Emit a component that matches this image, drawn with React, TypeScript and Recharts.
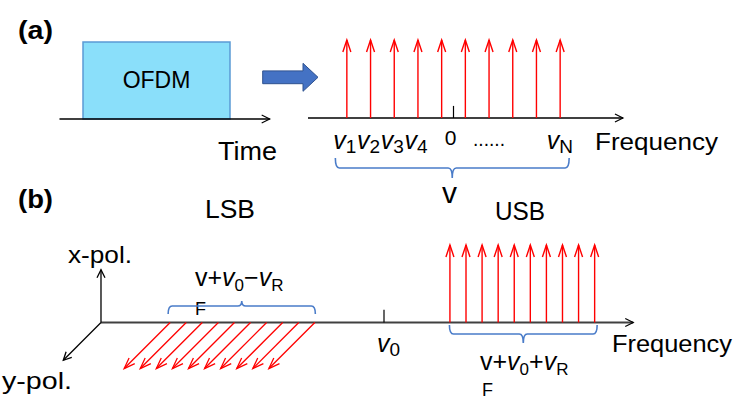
import React from 'react';
import { ComposedChart, XAxis, YAxis, ReferenceLine, ReferenceArea, ReferenceDot } from 'recharts';

const W = 737;
const H = 399;
const FONT = "'Liberation Sans', Arial, sans-serif";

// (a) OFDM baseband subcarriers v1 … vN, in subcarrier spacings about 0
const basebandFreq = [-4.5, -3.5, -2.5, -1.5, -0.5, 0.5, 1.5, 2.5, 3.5, 4.5];
const basebandAmp = [1, 1, 1, 1, 1, 1, 1, 1, 1, 1];
const basebandSub = ['1', '2', '3', '4', '', '', '', '', '', 'N'];

// (b) sidebands about the optical carrier v0, same spacing units
const lsbFreq = [-13.3, -12.3, -11.3, -10.3, -9.3, -8.3, -7.3, -6.3, -5.3, -4.3]; // y-pol.
const lsbAmp = [1, 1, 1, 1, 1, 1, 1, 1, 1, 1];
const usbFreq = [4.1, 5.1, 6.1, 7.1, 8.1, 9.1, 10.1, 11.1, 12.1, 13.1]; // x-pol.
const usbAmp = [1, 1, 1, 1, 1, 1, 1, 1, 1, 1];

// one OFDM symbol in the time domain
const symbolStart = 0;
const symbolEnd = 1;
const symbolLevel = 1;

// axis extents (in each panel's own units)
const timeAxis = [-0.16, 1.27];
const freqAxisA = [-6.14, 7.15];
const freqAxisB = [-17.6, 15.5];
const yPolDir = { df: -2.86, da: -0.594 }; // oblique y-pol. direction in (b)
const xPolLen = 0.68;
const yPolLen = 0.82;

// domain that puts value v0 at pixel p0 and v1 at pixel p1
function fit(v0: number, p0: number, v1: number, p1: number, size: number): [number, number] {
  const k = (p1 - p0) / (v1 - v0);
  const lo = v0 - p0 / k;
  return [lo, lo + size / k];
}
const fitY = (v0: number, p0: number, v1: number, p1: number) => fit(v0, H - p0, v1, H - p1, H);

const timeX = fit(0, 83, 1, 230, W);
const timeY = fitY(0, 119, 1, 42);
const freqAX = fit(0, 453.5, 1, 477.2, W);
const ampAY = fitY(0, 118, 1, 40);
const freqBX = fit(0, 384, 1, 400.08, W);
const ampBY = fitY(0, 322.5, 1, 245);

const RED = '#ff0000';
const BRACE = '#4a7cc9';

const rows = basebandFreq.map((f, i) => ({ f, a: basebandAmp[i] }));

const arrow = (color: string, width: number, len: number, half: number) => (p: any) => {
  const { x1, y1, x2, y2 } = p;
  const ang = Math.atan2(y2 - y1, x2 - x1);
  const c = Math.cos(ang);
  const s = Math.sin(ang);
  const bx = x2 - len * c;
  const by = y2 - len * s;
  return (
    <g>
      <line x1={x1} y1={y1} x2={x2} y2={y2} stroke={color} strokeWidth={width} />
      <path
        d={`M${bx - half * s},${by + half * c}L${x2},${y2}L${bx + half * s},${by - half * c}`}
        fill="none"
        stroke={color}
        strokeWidth={width}
      />
    </g>
  );
};

const axisLine = (color: string, width: number, headColor: string) => (p: any) => {
  const { x1, y1, x2, y2 } = p;
  return (
    <g>
      <line x1={x1} y1={y1} x2={x2} y2={y2} stroke={color} strokeWidth={width} />
      <path d={`M${x2 - 8},${y2 - 4}L${x2},${y2}L${x2 - 8},${y2 + 4}`} fill="none" stroke={headColor} strokeWidth={1.2} />
    </g>
  );
};

const tick = (p: any) => <line x1={p.x1} y1={p.y1} x2={p.x2} y2={p.y2} stroke="#000" strokeWidth={1.2} />;

const blockArrow = (p: any) => {
  const { x1, y1, x2 } = p;
  const headLen = 15;
  const shaft = 6.4;
  const head = 14;
  const d = `M${x1},${y1 - shaft}L${x2 - headLen},${y1 - shaft}L${x2 - headLen},${y1 - head}L${x2},${y1}L${x2 - headLen},${y1 + head}L${x2 - headLen},${y1 + shaft}L${x1},${y1 + shaft}Z`;
  return <path d={d} fill="#4472c4" stroke="#2f528f" strokeWidth={1} />;
};

const brace = (padL: number, padR: number, endDy: number, tipDy: number) => (p: any) => {
  const y = p.y1;
  const xa = Math.min(p.x1, p.x2) - padL;
  const xb = Math.max(p.x1, p.x2) + padR;
  const xc = (xa + xb) / 2;
  const r = 4;
  const d = `M${xa},${y + endDy}Q${xa},${y} ${xa + r},${y}L${xc - r},${y}Q${xc},${y} ${xc},${y + tipDy}Q${xc},${y} ${xc + r},${y}L${xb - r},${y}Q${xb},${y} ${xb},${y + endDy}`;
  return <path d={d} fill="none" stroke={BRACE} strokeWidth={1.6} />;
};

export default function App() {
  const n = basebandFreq.length;
  return (
    <div style={{ position: 'absolute', left: 0, top: 0, width: W, height: H, background: '#fff' }}>
      <ComposedChart width={W} height={H} data={rows} margin={{ top: 0, right: 0, bottom: 0, left: 0 }}>
        <XAxis xAxisId="px" dataKey="f" type="number" domain={[0, W]} allowDataOverflow hide />
        <YAxis yAxisId="py" dataKey="a" type="number" domain={[0, H]} reversed allowDataOverflow hide />
        <XAxis xAxisId="t" dataKey="f" type="number" domain={timeX} allowDataOverflow hide />
        <YAxis yAxisId="yt" dataKey="a" type="number" domain={timeY} allowDataOverflow hide />
        <XAxis xAxisId="fa" dataKey="f" type="number" domain={freqAX} allowDataOverflow hide />
        <YAxis yAxisId="ya" dataKey="a" type="number" domain={ampAY} allowDataOverflow hide />
        <XAxis xAxisId="fb" dataKey="f" type="number" domain={freqBX} allowDataOverflow hide />
        <YAxis yAxisId="yb" dataKey="a" type="number" domain={ampBY} allowDataOverflow hide />

        {/* (a) time-domain OFDM symbol */}
        <ReferenceArea
          xAxisId="t"
          yAxisId="yt"
          x1={symbolStart}
          x2={symbolEnd}
          y1={0}
          y2={symbolLevel}
          ifOverflow="visible"
          fill="#8adffa"
          fillOpacity={1}
          stroke="#5b9bd5"
          strokeWidth={1.5}
          label={{ value: 'OFDM', position: 'center', fontSize: 23, fill: '#000', fontFamily: FONT, dy: -1 }}
        />
        <ReferenceLine
          xAxisId="t"
          yAxisId="yt"
          segment={[{ x: timeAxis[0], y: 0 }, { x: timeAxis[1], y: 0 }]}
          ifOverflow="visible"
          shape={axisLine('#000', 1.3, '#000')}
        />

        {/* transform arrow */}
        <ReferenceLine
          xAxisId="px"
          yAxisId="py"
          segment={[{ x: 262.7, y: 77.3 }, { x: 318, y: 77.3 }]}
          ifOverflow="visible"
          shape={blockArrow}
        />

        {/* (a) baseband spectrum */}
        <ReferenceLine
          xAxisId="fa"
          yAxisId="ya"
          segment={[{ x: freqAxisA[0], y: 0 }, { x: freqAxisA[1], y: 0 }]}
          ifOverflow="visible"
          shape={axisLine('#000', 1.3, '#000')}
        />
        <ReferenceLine
          xAxisId="fa"
          yAxisId="ya"
          segment={[{ x: 0, y: 0 }, { x: 0, y: 0.155 }]}
          ifOverflow="visible"
          shape={tick}
        />
        {basebandFreq.map((f, i) => (
          <ReferenceLine
            key={`a${i}`}
            xAxisId="fa"
            yAxisId="ya"
            segment={[{ x: f, y: 0 }, { x: f, y: basebandAmp[i] }]}
            ifOverflow="visible"
            shape={arrow(RED, 1.4, 12, 4)}
          />
        ))}
        {basebandFreq.map((f, i) =>
          basebandSub[i] ? (
            <ReferenceDot
              key={`al${i}`}
              xAxisId="fa"
              yAxisId="ya"
              x={f}
              y={0}
              r={0}
              ifOverflow="visible"
              shape={(p: any) => (
                <text x={p.cx - 13.5} y={p.cy + 30.5} fontFamily={FONT} fontSize={25} fill="#000">
                  <tspan fontStyle="italic">v</tspan>
                  <tspan fontSize={19} dy={4}>{basebandSub[i]}</tspan>
                </text>
              )}
            />
          ) : null
        )}
        <ReferenceDot
          xAxisId="fa"
          yAxisId="ya"
          x={0}
          y={0}
          r={0}
          ifOverflow="visible"
          shape={(p: any) => (
            <text x={p.cx - 3} y={p.cy + 27} textAnchor="middle" fontFamily={FONT} fontSize={21} fill="#000">0</text>
          )}
        />
        <ReferenceLine
          xAxisId="fa"
          yAxisId="py"
          segment={[{ x: basebandFreq[0], y: 168 }, { x: basebandFreq[n - 1], y: 168 }]}
          ifOverflow="visible"
          shape={brace(11.5, 9, -10, 10)}
        />

        {/* (b) polarisation frame and optical spectrum */}
        <ReferenceLine
          xAxisId="fb"
          yAxisId="yb"
          segment={[{ x: freqAxisB[0], y: 0 }, { x: freqAxisB[1], y: 0 }]}
          ifOverflow="visible"
          shape={axisLine('#404040', 2, '#000')}
        />
        <ReferenceLine
          xAxisId="fb"
          yAxisId="yb"
          segment={[{ x: freqAxisB[0], y: 0 }, { x: freqAxisB[0], y: xPolLen }]}
          ifOverflow="visible"
          shape={arrow('#000', 1.3, 8, 4)}
        />
        <ReferenceLine
          xAxisId="fb"
          yAxisId="yb"
          segment={[
            { x: freqAxisB[0], y: 0 },
            { x: freqAxisB[0] + yPolDir.df * yPolLen, y: yPolDir.da * yPolLen },
          ]}
          ifOverflow="visible"
          shape={arrow('#000', 1.3, 8, 4)}
        />
        <ReferenceLine
          xAxisId="fb"
          yAxisId="yb"
          segment={[{ x: 0, y: 0 }, { x: 0, y: 0.165 }]}
          ifOverflow="visible"
          shape={tick}
        />
        {usbFreq.map((f, i) => (
          <ReferenceLine
            key={`u${i}`}
            xAxisId="fb"
            yAxisId="yb"
            segment={[{ x: f, y: 0 }, { x: f, y: usbAmp[i] }]}
            ifOverflow="visible"
            shape={arrow(RED, 1.4, 12, 4)}
          />
        ))}
        {lsbFreq.map((f, i) => (
          <ReferenceLine
            key={`l${i}`}
            xAxisId="fb"
            yAxisId="yb"
            segment={[
              { x: f, y: 0 },
              { x: f + yPolDir.df * lsbAmp[i], y: yPolDir.da * lsbAmp[i] },
            ]}
            ifOverflow="visible"
            shape={arrow(RED, 1.3, 11, 4)}
          />
        ))}
        <ReferenceLine
          xAxisId="fb"
          yAxisId="py"
          segment={[{ x: lsbFreq[0], y: 306 }, { x: lsbFreq[lsbFreq.length - 1], y: 306 }]}
          ifOverflow="visible"
          shape={brace(2, 0.5, 8, -5)}
        />
        <ReferenceLine
          xAxisId="fb"
          yAxisId="py"
          segment={[{ x: usbFreq[0], y: 334 }, { x: usbFreq[usbFreq.length - 1], y: 334 }]}
          ifOverflow="visible"
          shape={brace(0.5, 2.5, -9, 9)}
        />
        <ReferenceDot
          xAxisId="fb"
          yAxisId="yb"
          x={0}
          y={0}
          r={0}
          ifOverflow="visible"
          shape={(p: any) => (
            <text x={p.cx - 7} y={p.cy + 29} fontFamily={FONT} fontSize={25} fill="#000">
              <tspan fontStyle="italic">v</tspan>
              <tspan fontSize={19} dy={4}>0</tspan>
            </text>
          )}
        />

        {/* titles and axis names */}
        <g fontFamily={FONT} fill="#000">
          <text x={18} y={39} fontSize={26} fontWeight="bold" textLength={35} lengthAdjust="spacingAndGlyphs">(a)</text>
          <text x={218} y={160} fontSize={25} textLength={59} lengthAdjust="spacingAndGlyphs">Time</text>
          <text x={595} y={150} fontSize={24} textLength={123} lengthAdjust="spacingAndGlyphs">Frequency</text>
          <text x={473} y={146} fontSize={20} textLength={32} lengthAdjust="spacingAndGlyphs">......</text>
          <text x={449.5} y={203} fontSize={30} textAnchor="middle">v</text>
          <text x={18} y={208} fontSize={26} fontWeight="bold" textLength={35} lengthAdjust="spacingAndGlyphs">(b)</text>
          <text x={205} y={218} fontSize={25} textLength={50} lengthAdjust="spacingAndGlyphs">LSB</text>
          <text x={495} y={220} fontSize={25} textLength={50} lengthAdjust="spacingAndGlyphs">USB</text>
          <text x={68} y={263} fontSize={24} textLength={64} lengthAdjust="spacingAndGlyphs">x-pol.</text>
          <text x={2} y={389} fontSize={24} textLength={70} lengthAdjust="spacingAndGlyphs">y-pol.</text>
          <text x={612} y={352} fontSize={24} textLength={120} lengthAdjust="spacingAndGlyphs">Frequency</text>
          <text x={195} y={286} fontSize={25}>
            <tspan>v+</tspan>
            <tspan fontStyle="italic">v</tspan>
            <tspan fontSize={17} dy={5}>0</tspan>
            <tspan dy={-5}>−</tspan>
            <tspan fontStyle="italic">v</tspan>
            <tspan fontSize={17} dy={5}>R</tspan>
          </text>
          <text x={195} y={315} fontSize={18}>F</text>
          <text x={480} y={370} fontSize={25}>
            <tspan>v+</tspan>
            <tspan fontStyle="italic">v</tspan>
            <tspan fontSize={17} dy={5}>0</tspan>
            <tspan dy={-5}>+</tspan>
            <tspan fontStyle="italic">v</tspan>
            <tspan fontSize={17} dy={5}>R</tspan>
          </text>
          <text x={482} y={396} fontSize={18}>F</text>
        </g>
      </ComposedChart>
    </div>
  );
}
